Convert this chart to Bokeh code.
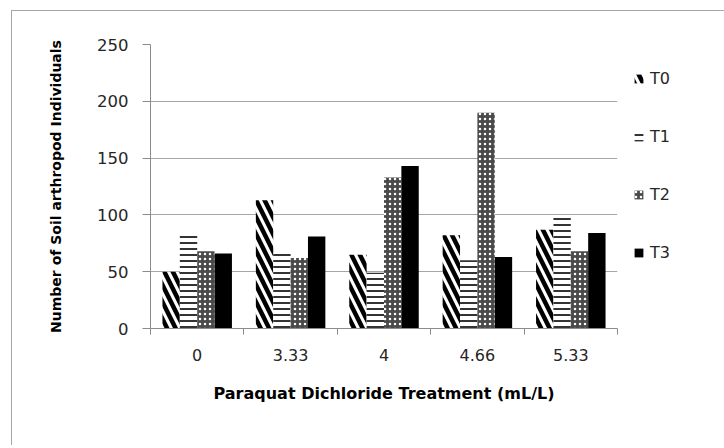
from bokeh.plotting import figure
from bokeh.models import (ColumnDataSource, FixedTicker, Legend, LegendItem, Range1d)
from bokeh.transform import dodge
from bokeh.embed import file_html
from bokeh.resources import INLINE

categories = ["0", "3.33", "4", "4.66", "5.33"]
series_names = ["T0", "T1", "T2", "T3"]
t0 = [50, 113, 65, 82, 87]
t1 = [83, 66, 49, 60, 100]
t2 = [68, 62, 133, 190, 68]
t3 = [66, 81, 143, 63, 84]
y_ticks = [0, 50, 100, 150, 200, 250]

centers = [i + 0.5 for i in range(len(categories))]
src = ColumnDataSource(data=dict(x=centers, T0=t0, T1=t1, T2=t2, T3=t3))

p = figure(width=710, height=434, frame_width=467, frame_height=284,
           output_backend="svg", toolbar_location=None,
           x_range=Range1d(0, len(categories)), y_range=Range1d(0, 250),
           min_border_left=138, min_border_top=33, min_border_right=105, min_border_bottom=117)
p.margin = (10, 0, 0, 11)
p.styles = {"border-left": "1px solid #a6a6a6", "border-top": "1px solid #a6a6a6"}
p.outline_line_color = None
p.background_fill_color = "white"
p.border_fill_color = "white"

w = 0.186
offs = [-1.5 * w, -0.5 * w, 0.5 * w, 1.5 * w]
styles = [
    dict(fill_color="white", hatch_pattern="left_diagonal_line", hatch_color="black",
         hatch_scale=17, hatch_weight=4.5),
    dict(fill_color="white", hatch_pattern="horizontal_line", hatch_color="black",
         hatch_scale=6, hatch_weight=1.6),
    dict(fill_color="#4a4a4a", hatch_pattern="dot", hatch_color="white",
         hatch_scale=5, hatch_weight=1.4),
    dict(fill_color="black"),
]
renderers = []
for name, off, st in zip(series_names, offs, styles):
    r = p.vbar(x=dodge("x", off, range=p.x_range), top=name, width=w, source=src,
               line_color=None, **st)
    renderers.append(r)

font = "DejaVu Sans"
# x axis
p.xaxis.ticker = FixedTicker(ticks=centers, minor_ticks=list(range(len(categories) + 1)))
p.xaxis.major_label_overrides = {c: lab for c, lab in zip(centers, categories)}
p.xaxis.major_tick_line_color = None
p.xaxis.major_tick_out = 6
p.xaxis.major_tick_in = 0
p.xaxis.minor_tick_line_color = "#8c8c8c"
p.xaxis.minor_tick_out = 6
p.xaxis.minor_tick_in = 0
p.xaxis.axis_line_color = "#8c8c8c"
p.xaxis.major_label_standoff = 14
p.xaxis.major_label_text_font = font
p.xaxis.major_label_text_font_size = "16px"
p.xaxis.major_label_text_color = "#262626"
p.xaxis.axis_label = "Paraquat Dichloride Treatment (mL/L)"
p.xaxis.axis_label_text_font = font
p.xaxis.axis_label_text_font_style = "bold"
p.xaxis.axis_label_text_font_size = "16px"
p.xaxis.axis_label_text_color = "black"
p.xaxis.axis_label_standoff = 20

# y axis
p.yaxis.ticker = FixedTicker(ticks=y_ticks)
p.yaxis.minor_tick_line_color = None
p.yaxis.major_tick_line_color = "#8c8c8c"
p.yaxis.major_tick_out = 8
p.yaxis.major_tick_in = 0
p.yaxis.axis_line_color = "#8c8c8c"
p.yaxis.major_label_standoff = 14
p.yaxis.major_label_text_font = font
p.yaxis.major_label_text_font_size = "16.5px"
p.yaxis.major_label_text_color = "#262626"
p.yaxis.axis_label = "Number of Soil arthropod Individuals"
p.yaxis.axis_label_text_font = font
p.yaxis.axis_label_text_font_style = "bold"
p.yaxis.axis_label_text_font_size = "14px"
p.yaxis.axis_label_text_color = "black"
p.yaxis.axis_label_standoff = 30

p.xgrid.grid_line_color = None
p.ygrid.grid_line_color = "#a6a6a6"
p.ygrid.ticker = FixedTicker(ticks=y_ticks)

legend = Legend(items=[LegendItem(label=n, renderers=[r]) for n, r in zip(series_names, renderers)],
                location=(16, 66), orientation="vertical",
                glyph_width=11, glyph_height=11, label_standoff=6,
                label_height=12, spacing=39, padding=0, margin=0,
                border_line_color=None, background_fill_alpha=0,
                label_text_font=font, label_text_font_size="16px", label_text_color="#262626")
p.add_layout(legend, "right")

open("out.html", "w").write(file_html(p, INLINE))
